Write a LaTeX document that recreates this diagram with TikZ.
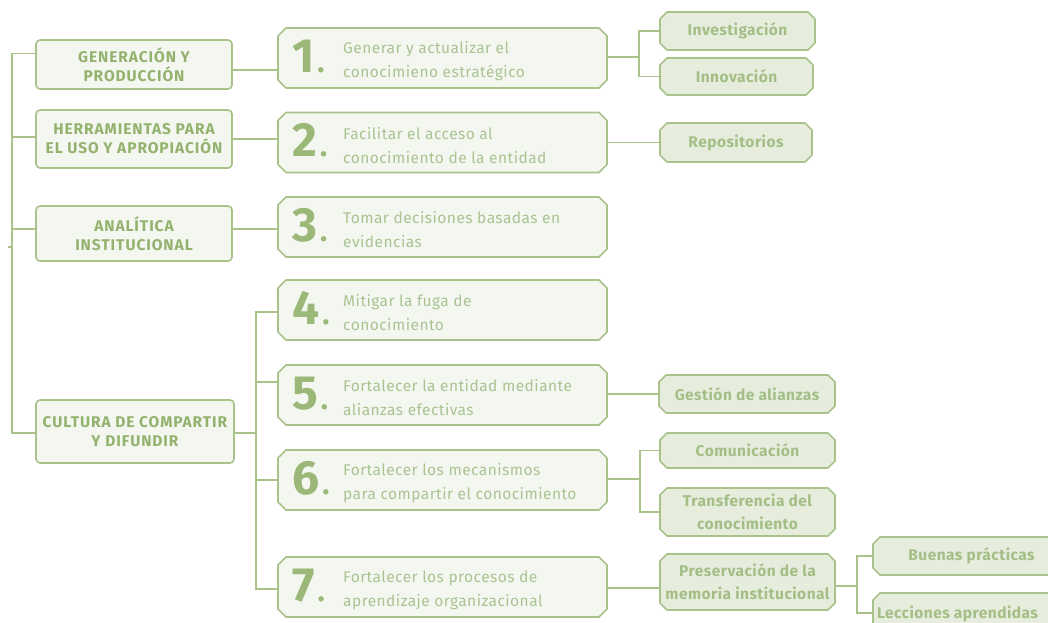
\documentclass[tikz,border=0pt]{standalone}
\usepackage{fontspec}
\setmainfont{Fira Sans}
\usetikzlibrary{calc}
\definecolor{gstroke}{HTML}{A8C28A}
\definecolor{gdark}{HTML}{93B26E}
\definecolor{gnum}{HTML}{9CB879}
\definecolor{gtext}{HTML}{A9C392}
\definecolor{gfill}{HTML}{F4F7F0}
\definecolor{rfill}{HTML}{E7EDDD}
\definecolor{rtext}{HTML}{A3BE86}
\pgfdeclarelayer{back}
\pgfdeclarelayer{mid}
\pgfsetlayers{back,mid,main}
\newcommand\chbox[3]{%
  \begin{pgfonlayer}{mid}
  \draw[boxline, fill=#2] ($(#1.north west)+(#3,0)$) -- ($(#1.north east)+(-#3,0)$)
    -- ($(#1.north east)+(0,#3)$) -- ($(#1.south east)+(0,-#3)$)
    -- ($(#1.south east)+(-#3,0)$) -- ($(#1.south west)+(#3,0)$)
    -- ($(#1.south west)+(0,-#3)$) -- ($(#1.north west)+(0,#3)$) -- cycle;
  \end{pgfonlayer}}
\begin{document}
\begin{tikzpicture}[x=1pt,y=-1pt,
  boxline/.style={draw=gstroke, line width=1.6pt, line join=round},
  conn/.style={draw=gstroke, line width=1.6pt},
  catbox/.style={boxline, fill=gfill, rounded corners=4pt,
    inner sep=0pt, align=center, text=gdark,
    font=\addfontfeatures{LetterSpace=6}\bfseries\fontsize{15.5}{19}\selectfont},
  goalbox/.style={rectangle, draw=none, inner sep=0pt, outer sep=0pt,
    minimum width=329pt, minimum height=60pt},
  numtxt/.style={anchor=base west, inner sep=0pt, text=gnum,
    font=\bfseries\fontsize{48}{48}\selectfont},
  goaltxt/.style={anchor=west, inner sep=0pt, align=left, text=gtext,
    font=\addfontfeatures{LetterSpace=3}\fontsize{15.5}{24}\selectfont},
  subbox/.style={rectangle, draw=none, inner sep=0pt, outer sep=0pt, align=center, text=rtext,
    font=\addfontfeatures{LetterSpace=3}\bfseries\fontsize{15.5}{23}\selectfont}
]
\begin{pgfonlayer}{back}
\fill[white] (0,0) rectangle (1048,622);
\end{pgfonlayer}
\useasboundingbox (0,0) rectangle (1048,622);

% category boxes
\node[catbox, minimum width=196pt, minimum height=49pt] (c1) at (134,64.5) {GENERACIÓN Y\\PRODUCCIÓN};
\node[catbox, minimum width=196pt, minimum height=58pt] (c2) at (134,139) {HERRAMIENTAS PARA\\EL USO Y APROPIACIÓN};
\node[catbox, minimum width=196pt, minimum height=55pt] (c3) at (134,233.5) {ANALÍTICA\\INSTITUCIONAL};
\node[catbox, minimum width=198pt, minimum height=63pt] (c4) at (135,431.5) {CULTURA DE COMPARTIR\\Y DIFUNDIR};

% goal boxes
\node[goalbox] (m1) at (442.5,58) {};
\node[goalbox] (m2) at (442.5,142.5) {};
\node[goalbox] (m3) at (442.5,227) {};
\node[goalbox] (m4) at (442.5,310) {};
\node[goalbox] (m5) at (442.5,395) {};
\node[goalbox] (m6) at (442.5,480) {};
\node[goalbox] (m7) at (442.5,587) {};
\foreach \n in {1,...,7}{\chbox{m\n}{gfill}{8}}

\foreach \n/\yy/\la/\lb in {1/58/{Generar y actualizar el}/{conocimieno estratégico},
  2/142.5/{Facilitar el acceso al}/{conocimiento de la entidad},
  3/227/{Tomar decisiones basadas en}/{evidencias},
  4/310/{Mitigar la fuga de}/{conocimiento},
  5/395/{Fortalecer la entidad mediante}/{alianzas efectivas},
  6/480/{Fortalecer los mecanismos}/{para compartir el conocimiento},
  7/587/{Fortalecer los procesos de}/{aprendizaje organizacional}}{
  \node[numtxt] (n\n) at (292,\yy+14) {\n\kern3pt{\fontsize{30}{30}\selectfont.}};
  \node[goaltxt] (t\n) at (343,\yy+3) {\la\\\lb};
}

% sub boxes
\node[subbox, minimum width=155pt, minimum height=38pt] (r1) at (737.5,31) {Investigación};
\node[subbox, minimum width=153pt, minimum height=37pt] (r2) at (736.5,76.5) {Innovación};
\node[subbox, minimum width=152pt, minimum height=39pt] (r3) at (736,142.5) {Repositorios};
\node[subbox, minimum width=176pt, minimum height=38pt] (r4) at (747,394) {Gestión de alianzas};
\node[subbox, minimum width=175pt, minimum height=35pt] (r5) at (747.5,450.5) {Comunicación};
\node[subbox, minimum width=175pt, minimum height=48pt] (r6) at (747.5,512) {Transferencia del\\conocimiento};
\node[subbox, minimum width=175pt, minimum height=56pt] (r7) at (747.5,582) {Preservación de la\\memoria institucional};
\node[subbox, minimum width=197pt, minimum height=38pt] (r8) at (971.5,556) {Buenas prácticas};
\node[subbox, minimum width=197pt, minimum height=47pt] (r9) at (971.5,616.5) {};
\node[subbox, anchor=base west] (r9t) at (877,618) {Lecciones aprendidas};
\chbox{r1}{rfill}{7}
\chbox{r2}{rfill}{7}
\chbox{r3}{rfill}{7}
\chbox{r4}{rfill}{7}
\chbox{r5}{rfill}{7}
\chbox{r6}{rfill}{7}
\chbox{r7}{rfill}{7}
\chbox{r8}{rfill}{7}
\chbox{r9}{rfill}{7}

% junction coordinates
\coordinate (s1) at (12,250);
\coordinate (s2) at (256,433);
\coordinate (j1) at (639,57);
\coordinate (j2) at (640,479);
\coordinate (j3) at (857,586);

% left spine
\draw[conn] ($(c1.west)+(0,-11)$) -| (s1) |- (c4.west |- s2);
\draw[conn] (c2.west |- 0,137) -- (s1 |- 0,137);
\draw[conn] (c3.west |- 0,229) -- (s1 |- 0,229);
\draw[conn] (s1 |- 0,247) -- ++(-4,0);

% categories to goals
\draw[conn] (c1.east |- 0,70) -- (m1.west |- 0,70);
\draw[conn] (c2.east |- 0,139) -- (m2.west |- 0,139);
\draw[conn] (c3.east |- 0,229) -- (m3.west |- 0,229);
\draw[conn] (c4.east |- s2) -- (s2);
\draw[conn] (m4.west |- 0,312) -| (s2) |- (m7.west |- 0,589);
\draw[conn] (s2 |- 0,382) -- (m5.west |- 0,382);
\draw[conn] (s2 |- 0,480) -- (m6.west |- 0,480);

% goals to sub boxes
\draw[conn] (m1.east |- j1) -- (j1);
\draw[conn] (r1.west) -| (j1) |- (r2.west);
\draw[conn] (m2.east |- r3.west) -- (r3.west);
\draw[conn] (m5.east |- r4.west) -- (r4.west);
\draw[conn] (m6.east |- j2) -- (j2);
\draw[conn] (r5.west) -| (j2) |- (r6.west);
\draw[conn] (m7.east |- 0,588) -- (r7.west |- 0,588);
\draw[conn] (r7.east |- j3) -- (j3);
\draw[conn] (r8.west) -| (j3) |- (r9.west |- 0,613);
\end{tikzpicture}
\end{document}
